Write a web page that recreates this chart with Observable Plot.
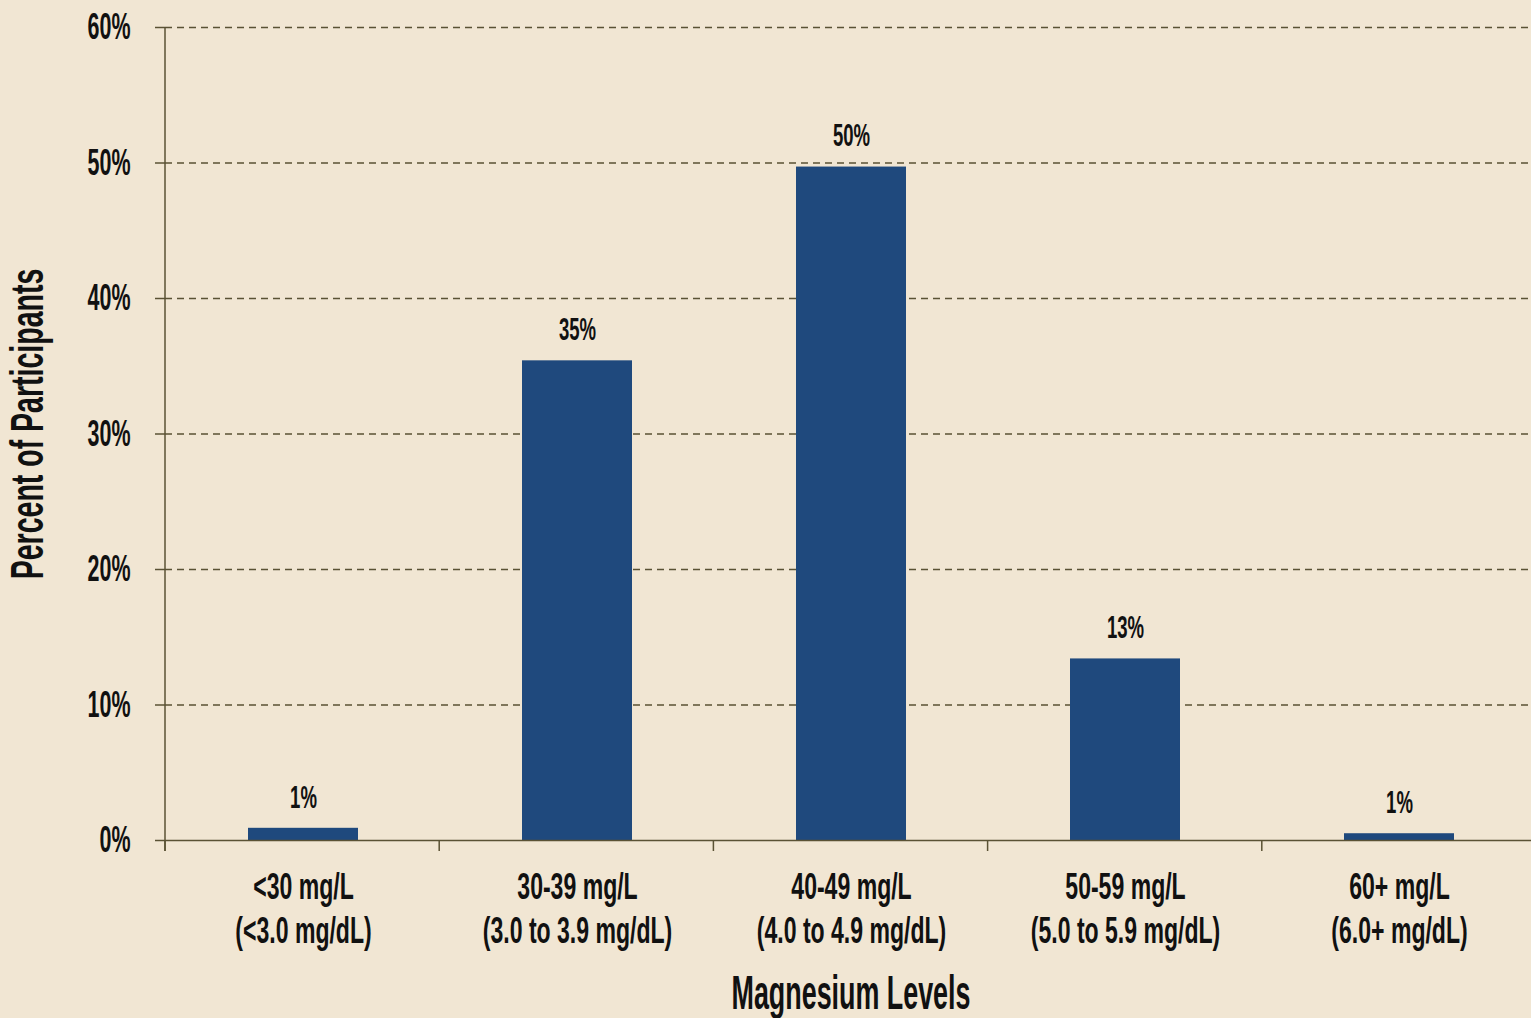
<!DOCTYPE html>
<html>
<head>
<meta charset="utf-8">
<script src="https://cdn.jsdelivr.net/npm/d3@7"></script>
<script src="https://cdn.jsdelivr.net/npm/@observablehq/plot@0.6"></script>
<style>
  html, body { margin: 0; padding: 0; overflow: hidden; background: #f1e6d3; }
</style>
</head>
<body>
<div id="chart"></div>
<script>
const categories = ["<30 mg/L", "30-39 mg/L", "40-49 mg/L", "50-59 mg/L", "60+ mg/L"];
const subLabels = ["(<3.0 mg/dL)", "(3.0 to 3.9 mg/dL)", "(4.0 to 4.9 mg/dL)", "(5.0 to 5.9 mg/dL)", "(6.0+ mg/dL)"];
const values = [0.9, 35.4, 49.7, 13.4, 0.5];
const valueLabels = ["1%", "35%", "50%", "13%", "1%"];
const yTicks = [0, 10, 20, 30, 40, 50, 60];
const yTitle = "Percent of Participants";
const xTitle = "Magnesium Levels";

const data = categories.map((c, i) => ({cat: c, sub: subLabels[i], value: values[i], label: valueLabels[i]}));

const axisColor = "#5a5234";
const barColor = "#1f497d";
// horizontal condensing (emulates a condensed typeface)
const condenseAxes = {"y-axis tick label": 0.58, "x-axis tick label": 0.64};
const condenseTextMarks = [0.58, 0.62, 0.56]; // value labels, y title, x title (in mark order)

function boundaryTicks(index, scales, values, dimensions) {
  const {width, marginLeft, marginRight, marginTop} = dimensions;
  const y0 = scales.y(0);
  const step = (width - marginLeft - marginRight) / categories.length;
  const g = d3.create("svg:g").attr("stroke", axisColor).attr("stroke-width", 1.5);
  g.append("line").attr("x1", marginLeft).attr("x2", marginLeft)
    .attr("y1", marginTop).attr("y2", y0 + 11);
  categories.forEach((c, i) => {
    const x = marginLeft + i * step;
    g.append("line").attr("x1", x).attr("x2", x).attr("y1", y0).attr("y2", y0 + 11);
  });
  return g.node();
}

const plot = Plot.plot({
  width: 1536,
  height: 1018,
  marginTop: 27,
  marginLeft: 165,
  marginRight: 0,
  marginBottom: 178,
  style: "max-width:none; background:#f1e6d3; color:#111; font-family:'Liberation Sans', Arial, sans-serif; font-weight:bold;",
  x: {domain: categories, paddingInner: 0.6, paddingOuter: 0.3, label: null},
  y: {domain: [0, 60], label: null},
  marks: [
    Plot.ruleY(yTicks.filter(d => d > 0), {stroke: axisColor, strokeWidth: 1.3, strokeDasharray: "7,5"}),
    Plot.barY(data, {x: "cat", y: "value", fill: barColor}),
    Plot.ruleY([0], {stroke: axisColor, strokeWidth: 1.5}),
    Plot.axisY(yTicks, {
      tickSize: 10, tickPadding: 25, stroke: axisColor, strokeWidth: 1.5,
      tickFormat: d => d + "%", fontSize: 37, fontWeight: "bold", fill: "#111", label: null
    }),
    Plot.axisX({
      tickSize: 0, tickPadding: 27, fontSize: 36, fontWeight: "bold", fill: "#111",
      lineHeight: 1.23, label: null,
      tickFormat: (d) => d + "\n" + subLabels[categories.indexOf(d)]
    }),
    boundaryTicks,
    Plot.text(data, {x: "cat", y: "value", text: "label", dy: -31, fontSize: 32, fontWeight: "bold", fill: "#111"}),
    Plot.text([yTitle], {frameAnchor: "left", textAnchor: "middle", lineAnchor: "middle", rotate: -90, dx: -137, dy: -10, fontSize: 46, fontWeight: "bold", fill: "#111"}),
    Plot.text([xTitle], {frameAnchor: "bottom", textAnchor: "middle", lineAnchor: "middle", dy: 153, fontSize: 48, fontWeight: "bold", fill: "#111"})
  ]
});

function condenseTexts(g, s) {
  g.querySelectorAll("text").forEach(t => {
    const tr = t.getAttribute("transform") || "";
    t.setAttribute("transform", tr + ` scale(${s},1)`);
  });
}
for (const [label, s] of Object.entries(condenseAxes)) {
  plot.querySelectorAll(`g[aria-label="${label}"]`).forEach(g => condenseTexts(g, s));
}
plot.querySelectorAll('g[aria-label="text"]').forEach((g, i) => {
  if (condenseTextMarks[i]) condenseTexts(g, condenseTextMarks[i]);
});

document.getElementById("chart").appendChild(plot);
</script>
</body>
</html>
